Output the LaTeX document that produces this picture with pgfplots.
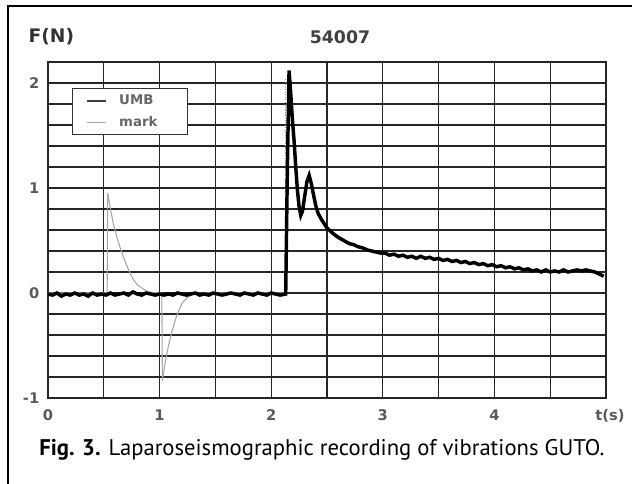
\documentclass[border=0pt]{standalone}
\usepackage{fontspec}
\setmainfont{DejaVu Sans}
\newfontfamily\capfont{PT Sans}
\usepackage{pgfplots}
\pgfplotsset{compat=1.18}
\begin{document}
\begin{tikzpicture}
\useasboundingbox (0,0) rectangle (474pt,363pt);
\draw[line width=1.4pt, black] (6pt,-20pt) -- (6pt,358.5pt) -- (500pt,358.5pt);
\begin{axis}[
  at={(36pt,64.5pt)}, anchor=south west,
  scale only axis, width=418.5pt, height=252pt,
  xmin=0, xmax=5, ymin=-1, ymax=2.2,
  xtick={0,1,2,3,4,5}, xticklabels={0,1,2,3,4,\makebox[0pt][l]{\hspace{-8pt}t(s)}},
  minor xtick={0.5,1.5,2.5,3.5,4.5},
  ytick={-1,0,1,2}, yticklabels={-1,0,1,2},
  minor ytick={-0.8,-0.6,-0.4,-0.2,0.2,0.4,0.6,0.8,1.2,1.4,1.6,1.8},
  grid=both,
  major grid style={black!85, line width=1pt},
  minor grid style={black!85, line width=1pt},
  axis line style={black!85, line width=1pt},
  major tick length=0pt, minor tick length=0pt,
  ticklabel style={font=\fontsize{11}{13}\selectfont\bfseries, text=black!65},
  xticklabel style={yshift=-5pt},
  yticklabel style={xshift=-3pt},
  legend style={at={(0.043,0.923)}, anchor=north west, draw=black!80, line width=0.8pt,
    fill=white, font=\fontsize{10}{12}\selectfont\bfseries, text=black!60,
    inner xsep=3pt, inner ysep=3pt, row sep=3pt},
  legend cell align=left,
  legend image code/.code={\path[draw=none] (0pt,0pt) -- (30pt,0pt); \draw[#1] (8pt,0pt) -- (22pt,0pt);},
]
% mark (gray)
\addplot[black!35, line width=0.8pt, forget plot] coordinates {
(0.00,0) (0.53,0) (0.535,0.95) (0.56,0.80) (0.59,0.64) (0.62,0.52) (0.65,0.42)
(0.68,0.33) (0.71,0.25) (0.74,0.18) (0.77,0.12) (0.80,0.08) (0.85,0.04) (0.90,0.01)
(1.00,0) (1.02,0) (1.025,-0.84) (1.05,-0.66) (1.08,-0.50) (1.11,-0.37) (1.14,-0.26)
(1.17,-0.17) (1.20,-0.10) (1.24,-0.05) (1.30,-0.01) (1.40,0) (2.12,0)
};
\addplot[black!40, line width=0.9pt, densely dotted, forget plot] coordinates {
(2.13,0) (2.13,2.05)
};
% UMB (black)
\addplot[black, line width=2.6pt,
  legend image code/.code={\path[draw=none] (0pt,0pt) -- (30pt,0pt); \draw[black!75, line width=1.3pt] (8pt,0pt) -- (22pt,0pt);}] coordinates {
(0.00,-0.01) (0.04,-0.02) (0.08,0.00) (0.12,-0.03) (0.16,-0.01) (0.20,-0.02)
(0.24,0.00) (0.28,-0.02) (0.32,-0.01) (0.36,-0.03) (0.40,0.00) (0.44,-0.02)
(0.48,-0.01) (0.52,-0.02) (0.56,0.00) (0.60,-0.02) (0.64,-0.01) (0.68,0.00)
(0.72,-0.02) (0.76,0.01) (0.80,-0.01) (0.84,-0.02) (0.88,0.00) (0.92,-0.01)
(0.96,-0.02) (1.00,-0.01) (1.04,-0.02) (1.08,-0.01) (1.12,-0.02) (1.16,0.00)
(1.20,-0.01) (1.24,-0.02) (1.28,-0.01) (1.32,0.00) (1.36,-0.02) (1.40,-0.01)
(1.44,-0.02) (1.48,0.00) (1.52,-0.01) (1.56,-0.02) (1.60,-0.01) (1.64,0.00)
(1.68,-0.01) (1.72,-0.02) (1.76,0.00) (1.80,-0.01) (1.84,-0.02) (1.88,0.00)
(1.92,-0.01) (1.96,-0.02) (2.00,0.00) (2.04,-0.01) (2.08,-0.02) (2.13,-0.01)
(2.145,1.20) (2.16,2.12) (2.175,1.90) (2.19,1.65) (2.205,1.45) (2.22,1.20)
(2.235,0.98) (2.25,0.82) (2.265,0.74) (2.28,0.78) (2.30,0.92) (2.32,1.06)
(2.34,1.12) (2.36,1.04) (2.38,0.93) (2.40,0.83) (2.42,0.76) (2.45,0.70)
(2.50,0.62) (2.55,0.57) (2.60,0.53) (2.65,0.50) (2.70,0.47) (2.74,0.46)
(2.78,0.44) (2.82,0.43) (2.86,0.41) (2.90,0.40) (2.94,0.39) (2.98,0.38)
(3.02,0.38) (3.06,0.36) (3.10,0.37) (3.14,0.35) (3.18,0.36) (3.22,0.34)
(3.26,0.35) (3.30,0.33) (3.34,0.35) (3.38,0.33) (3.42,0.34) (3.46,0.32)
(3.50,0.33) (3.54,0.31) (3.58,0.32) (3.62,0.30) (3.66,0.31) (3.70,0.29)
(3.74,0.30) (3.78,0.28) (3.82,0.29) (3.86,0.27) (3.90,0.28) (3.94,0.26)
(3.98,0.27) (4.02,0.25) (4.06,0.26) (4.10,0.24) (4.14,0.25) (4.18,0.23)
(4.22,0.24) (4.26,0.22) (4.30,0.23) (4.34,0.21) (4.38,0.22) (4.42,0.20)
(4.46,0.22) (4.50,0.20) (4.54,0.21) (4.58,0.20) (4.62,0.22) (4.66,0.20)
(4.70,0.21) (4.74,0.22) (4.78,0.21) (4.82,0.22) (4.86,0.21) (4.90,0.20)
(4.94,0.18) (4.98,0.16)
};
\addlegendentry{\makebox[46pt][l]{UMB}}
\addlegendimage{black!35, line width=0.8pt}
\addlegendentry{\makebox[46pt][l]{mark}}
\end{axis}
\node[font=\fontsize{14}{16}\selectfont\bfseries, text=black!80] at (38.5pt,335.25pt) {F(N)};
\node[font=\fontsize{13}{15}\selectfont\bfseries, text=black!75] at (255pt,335.25pt) {54007};
\node[anchor=base west, font=\capfont\fontsize{17}{20}\selectfont, inner sep=0pt] at (29.25pt,21pt) {\textbf{Fig. 3.} Laparoseismographic recording of vibrations GUTO.};
\end{tikzpicture}
\end{document}
